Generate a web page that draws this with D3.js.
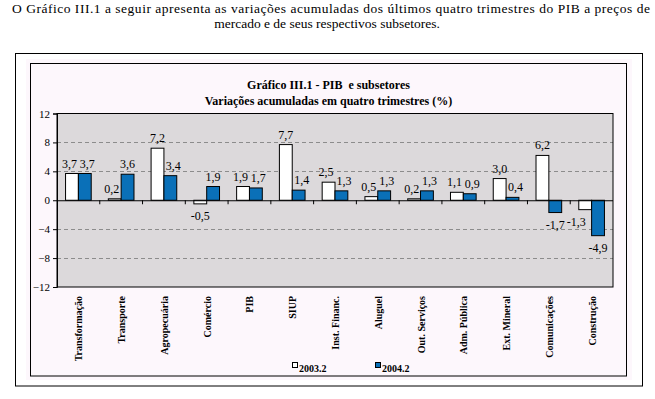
<!DOCTYPE html>
<html>
<head>
<meta charset="utf-8">
<script src="https://cdn.jsdelivr.net/npm/d3@7"></script>
<style>
  html, body { margin: 0; padding: 0; background: #ffffff; }
  svg { display: block; font-family: "Liberation Serif", serif; }
  svg text { font-family: "Liberation Serif", serif !important; }
</style>
</head>
<body>
<svg id="chart" width="655" height="399"></svg>
<script>
// ---- data ----
const categories = ["Transformação", "Transporte", "Agropecuária", "Comércio", "PIB", "SIUP",
  "Inst. Financ.", "Aluguel", "Out. Serviços", "Adm. Pública", "Ext. Mineral", "Comunicações", "Construção"];
const seriesNames = ["2003.2", "2004.2"];
const values2003 = [3.7, 0.2, 7.2, -0.5, 1.9, 7.7, 2.5, 0.5, 0.2, 1.1, 3.0, 6.2, -1.3];
const values2004 = [3.7, 3.6, 3.4, 1.9, 1.7, 1.4, 1.3, 1.3, 1.3, 0.9, 0.4, -1.7, -4.9];
const yTicks = [-12, -8, -4, 0, 4, 8, 12];
const introLines = [
  "O Gráfico III.1 a seguir apresenta as variações acumuladas dos últimos quatro trimestres do PIB a preços de",
  "mercado e de seus respectivos subsetores."
];
const titleLines = ["Gráfico III.1 - PIB  e subsetores", "Variações acumuladas em quatro trimestres (%)"];

// ---- drawing ----
const FONT = "Liberation Serif, serif";
const colors = { "2003.2": "#ffffff", "2004.2": "#0a70b8" };
const svg = d3.select("#chart");

// intro paragraph
svg.append("text").attr("x", 12).attr("y", 12.5)
  .style("font-family", FONT).attr("font-size", 13.5).attr("fill", "#000")
  .attr("textLength", 638).attr("lengthAdjust", "spacing")
  .text(introLines[0]);
svg.append("text").attr("x", 327).attr("y", 28)
  .style("font-family", FONT).attr("font-size", 13.5).attr("text-anchor", "middle").attr("fill", "#000")
  .text(introLines[1]);

// frames
svg.append("rect").attr("x", 15.5).attr("y", 53.5).attr("width", 627).attr("height", 332.5)
  .attr("fill", "#fff").attr("stroke", "#000").attr("stroke-width", 1);
svg.append("rect").attr("x", 26).attr("y", 59).attr("width", 606).attr("height", 321)
  .attr("fill", "#fdf7fc");
svg.append("rect").attr("x", 30.5).attr("y", 63.5).attr("width", 596).attr("height", 312.5)
  .attr("fill", "none").attr("stroke", "#000").attr("stroke-width", 1);

// title
svg.selectAll("text.title").data(titleLines).enter().append("text")
  .attr("class", "title")
  .attr("x", 328.5).attr("y", (d, i) => i === 0 ? 88.5 : 105)
  .style("font-family", FONT)
  .attr("text-anchor", "middle").attr("font-size", 12).attr("font-weight", "bold")
  .style("white-space", "pre")
  .text(d => d);

// scales
const plot = { left: 57, right: 613, top: 113.5, bottom: 287 };
const x0 = d3.scaleBand().domain(categories).range([plot.left, plot.right])
  .paddingInner(0.4).paddingOuter(0.2);
const x1 = d3.scaleBand().domain(seriesNames).range([0, x0.bandwidth()]).padding(0);
const y = d3.scaleLinear().domain([-12, 12]).range([plot.bottom, plot.top]);

// plot background
svg.append("rect").attr("x", plot.left).attr("y", plot.top)
  .attr("width", plot.right - plot.left).attr("height", plot.bottom - plot.top)
  .attr("fill", "#dcd9db");

// gridlines
svg.append("g").selectAll("line").data(yTicks.filter(t => t !== 0 && Math.abs(t) !== 12)).enter()
  .append("line")
  .attr("x1", plot.left).attr("x2", plot.right)
  .attr("y1", d => Math.round(y(d)) + 0.5).attr("y2", d => Math.round(y(d)) + 0.5)
  .attr("stroke", "#8c8c8c").attr("stroke-width", 1).attr("stroke-dasharray", "4,3");

// plot border
svg.append("rect").attr("x", plot.left).attr("y", plot.top)
  .attr("width", plot.right - plot.left).attr("height", plot.bottom - plot.top)
  .attr("fill", "none").attr("stroke", "#000").attr("stroke-width", 1);

// bars
const rows = categories.map((c, i) => ({ cat: c, vals: [
  { s: seriesNames[0], v: values2003[i], other: values2004[i], side: -1 },
  { s: seriesNames[1], v: values2004[i], other: values2003[i], side: 1 }] }));
const groups = svg.append("g").selectAll("g").data(rows).enter().append("g")
  .attr("transform", d => `translate(${x0(d.cat)},0)`);
groups.selectAll("rect").data(d => d.vals).enter().append("rect")
  .attr("x", d => x1(d.s))
  .attr("y", d => y(Math.max(0, d.v)))
  .attr("width", x1.bandwidth())
  .attr("height", d => Math.abs(y(d.v) - y(0)))
  .attr("fill", d => colors[d.s]).attr("stroke", "#000").attr("stroke-width", 1);

// value labels (nudged apart when they would collide with the neighbour label or bar)
const fmt = v => v.toFixed(1).replace(".", ",");
const labelY = v => v >= 0 ? y(v) - 6 : y(v) + 16;
groups.selectAll("text").data(d => d.vals).enter().append("text")
  .attr("x", d => {
    const cx = x1(d.s) + x1.bandwidth() / 2;
    const sameSign = Math.sign(d.v) === Math.sign(d.other);
    const close = sameSign && Math.abs(labelY(d.v) - labelY(d.other)) < 12;
    const c = labelY(d.v) - 4;
    const lo = Math.min(y(0), y(d.other)), hi = Math.max(y(0), y(d.other));
    const inNeighbourBar = sameSign && c > lo && c < hi;
    let dx = 0;
    if (close) dx = d.side * 2.5;
    else if (inNeighbourBar) dx = d.side * (d.v < 0 ? 9 : 3);
    return cx + dx;
  })
  .attr("y", d => labelY(d.v))
  .style("font-family", FONT)
  .attr("text-anchor", "middle").attr("font-size", 12).attr("fill", "#000")
  .text(d => fmt(d.v));

// x axis (zero line) with ticks at category boundaries
const xAxis = d3.axisBottom(x0).tickSize(4).tickFormat("");
const gx = svg.append("g").attr("transform", `translate(0,${y(0)})`).call(xAxis);
gx.select(".domain").attr("d", `M${plot.left},0.5H${plot.right}`).attr("stroke", "#000");
gx.selectAll(".tick").attr("transform", d => `translate(${x0(d) - x0.step() * x0.paddingInner() / 2},0)`);
gx.selectAll(".tick").filter((d, i) => i === 0).remove();
gx.selectAll(".tick line").attr("stroke", "#000");

// y axis
const yAxis = d3.axisLeft(y).tickValues(yTicks).tickSize(4).tickPadding(3).tickFormat(d3.format("d"));
const gy = svg.append("g").attr("transform", `translate(${plot.left},0)`).call(yAxis);
gy.attr("font-family", FONT);
gy.select(".domain").attr("stroke", "#000");
gy.selectAll(".tick line").attr("stroke", "#000");
gy.selectAll(".tick text").style("font-family", FONT).attr("font-size", 11).attr("fill", "#000");

// category labels (rotated)
svg.append("g").selectAll("text").data(categories).enter().append("text")
  .attr("transform", d => `translate(${x0(d) + x0.bandwidth() / 2 + 4},296) rotate(-90)`)
  .style("font-family", FONT)
  .attr("text-anchor", "end").attr("font-size", 10).attr("font-weight", "bold").attr("fill", "#000")
  .text(d => d);

// legend
const legendX = [292, 375];
const lg = svg.append("g").selectAll("g").data(seriesNames).enter().append("g")
  .attr("transform", (d, i) => `translate(${legendX[i]},362)`);
lg.append("rect").attr("x", 0.5).attr("y", 0.5).attr("width", 5).attr("height", 5)
  .attr("fill", d => colors[d]).attr("stroke", "#000").attr("stroke-width", 1);
lg.append("text").attr("x", 7).attr("y", 10)
  .style("font-family", FONT).attr("font-size", 10).attr("font-weight", "bold")
  .text(d => d);
</script>
</body>
</html>
